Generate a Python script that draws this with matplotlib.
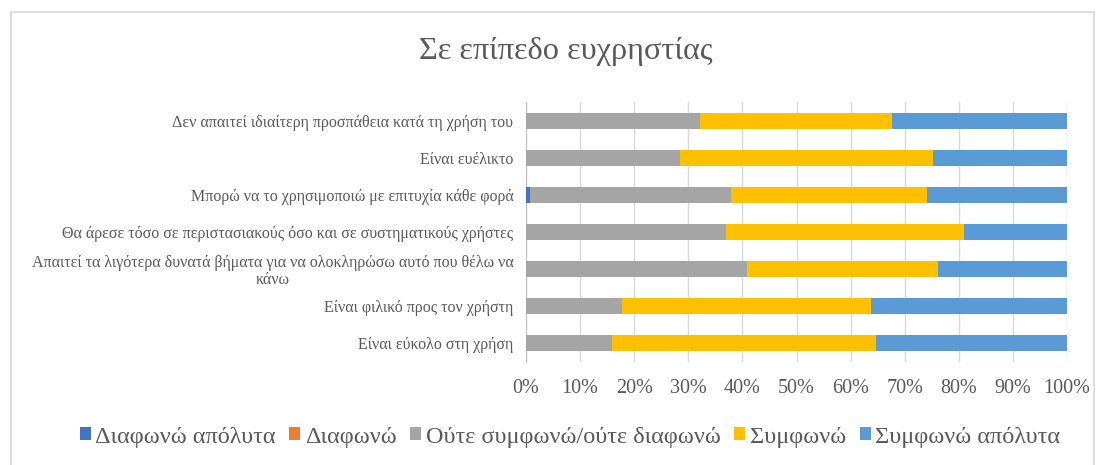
import numpy as np
import matplotlib

matplotlib.use('Agg')
import matplotlib.pyplot as plt
from matplotlib.patches import Rectangle

plt.rcParams['font.family'] = ['Liberation Serif', 'DejaVu Serif']

# categories listed top to bottom as in the chart
categories = [
    'Δεν απαιτεί ιδιαίτερη προσπάθεια κατά τη χρήση του',
    'Είναι ευέλικτο',
    'Μπορώ να το χρησιμοποιώ με επιτυχία κάθε φορά',
    'Θα άρεσε τόσο σε περιστασιακούς όσο και σε συστηματικούς χρήστες',
    'Απαιτεί τα λιγότερα δυνατά βήματα για να ολοκληρώσω αυτό που θέλω να\nκάνω',
    'Είναι φιλικό προς τον χρήστη',
    'Είναι εύκολο στη χρήση',
]
series_names = ['Διαφωνώ απόλυτα', 'Διαφωνώ', 'Ούτε συμφωνώ/ούτε διαφωνώ',
                'Συμφωνώ', 'Συμφωνώ απόλυτα']
# percentages per category (top to bottom)
disagree_strong = [0, 0, 0.8, 0, 0, 0, 0]
disagree = [0, 0, 0, 0, 0, 0, 0]
neutral = [32.2, 28.4, 37.1, 37.0, 40.8, 17.8, 15.9]
agree = [35.4, 46.8, 36.3, 43.9, 35.4, 45.9, 48.8]
agree_strong = [32.4, 24.8, 25.8, 19.1, 23.8, 36.3, 35.3]
colors = ['#4472C4', '#ED7D31', '#A5A5A5', '#FFC000', '#5B9BD5']

values = np.array([disagree_strong, disagree, neutral, agree, agree_strong], dtype=float)
values = values / values.sum(axis=0)  # 100% stacked

fig = plt.figure(figsize=(11.05, 4.65), dpi=100)
fig.patches.append(Rectangle((11 / 1105, -0.01), 1083 / 1105, 0.984, transform=fig.transFigure,
                             fill=False, edgecolor='#D9D9D9', linewidth=1.2))
ax = fig.add_axes([526 / 1105, 1 - 362 / 465, 541 / 1105, 260 / 465])

y = np.arange(len(categories))
left = np.zeros(len(categories))
for name, vals, c in zip(series_names, values, colors):
    ax.barh(y, vals, left=left, height=0.43, color=c, label=name, zorder=3)
    left += vals

ax.set_xlim(0, 1)
ax.set_ylim(len(categories) - 0.5, -0.5)
ax.set_xticks(np.linspace(0, 1, 11))
ax.set_xticklabels([f'{int(round(t * 100))}%' for t in np.linspace(0, 1, 11)])
ax.set_yticks(y)
ax.set_yticklabels(categories, multialignment='center', linespacing=1.05)
ax.tick_params(axis='x', length=0, labelsize=14.5, labelcolor='#595959', pad=12)
ax.tick_params(axis='y', length=0, labelsize=11.5, labelcolor='#595959', pad=9)
ax.grid(axis='x', color='#D9D9D9', linewidth=1, zorder=0)
for s in ['top', 'right', 'bottom']:
    ax.spines[s].set_visible(False)
ax.spines['left'].set_color('#BFBFBF')

fig.text(566 / 1105, 1 - 52 / 465, 'Σε επίπεδο ευχρηστίας', ha='center', va='center',
         fontsize=23.2, color='#595959')

fig.legend(loc='center', bbox_to_anchor=(570 / 1105, 1 - 437 / 465), ncol=5, frameon=False,
           prop={'size': 17.5}, labelcolor='#595959', handlelength=0.45, handleheight=0.45,
           handletextpad=0.2, columnspacing=0.55)

fig.savefig('out.png', dpi=100)
